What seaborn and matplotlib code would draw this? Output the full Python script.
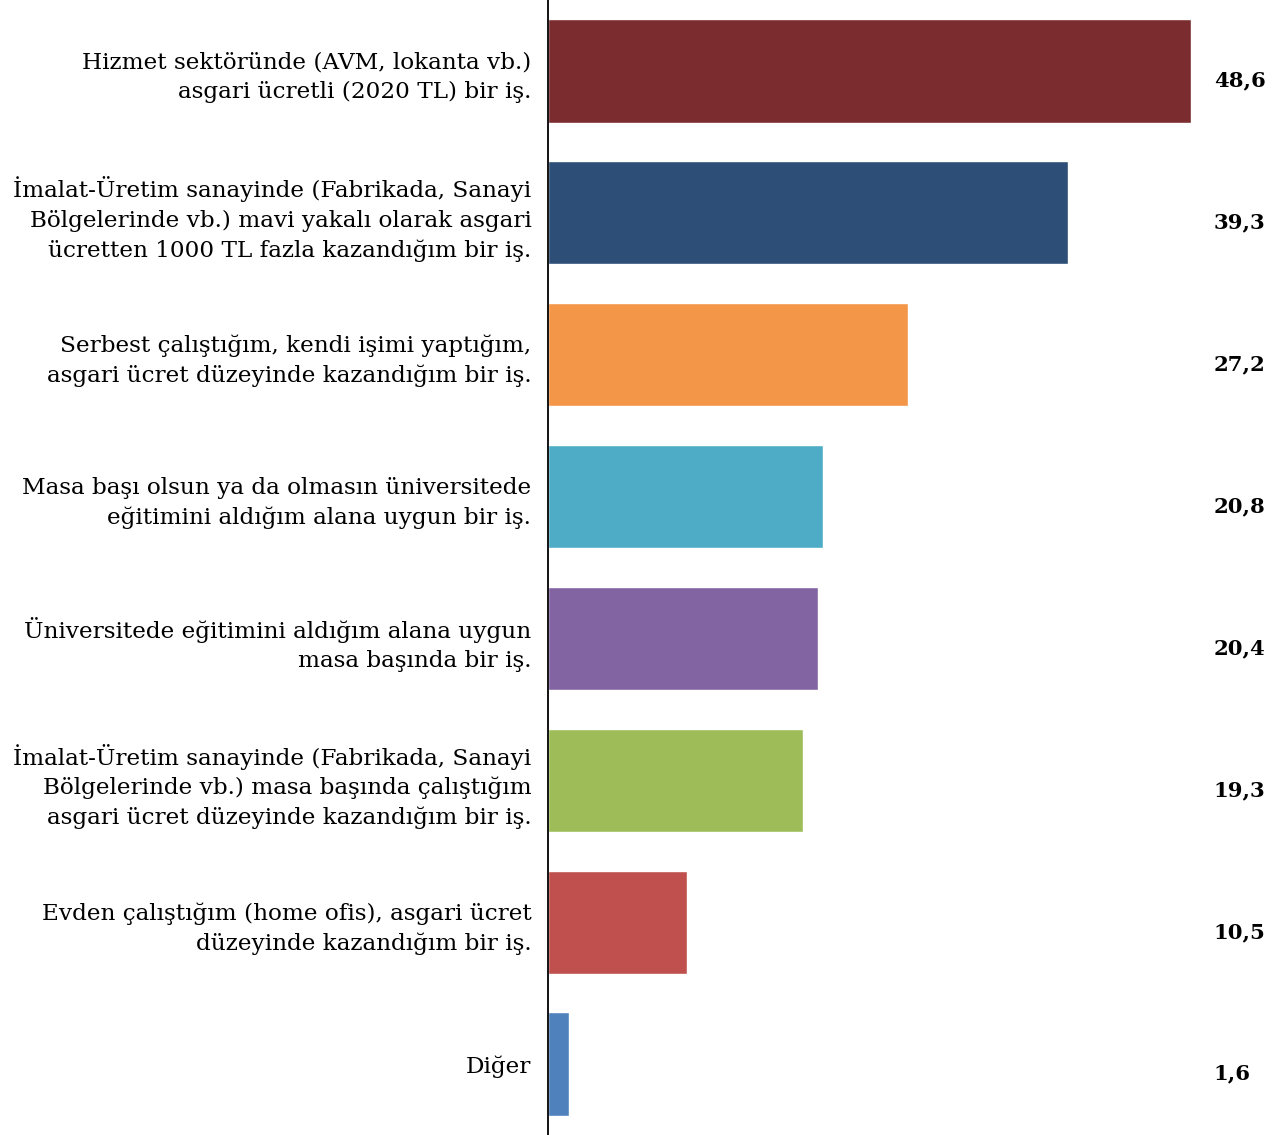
import pandas as pd
import seaborn as sns
import matplotlib.pyplot as plt

# answers and shares (%)
labels = [
    "Hizmet sektöründe (AVM, lokanta vb.)\nasgari ücretli (2020 TL) bir iş.",
    "İmalat-Üretim sanayinde (Fabrikada, Sanayi\nBölgelerinde vb.) mavi yakalı olarak asgari\nücretten 1000 TL fazla kazandığım bir iş.",
    "Serbest çalıştığım, kendi işimi yaptığım,\nasgari ücret düzeyinde kazandığım bir iş.",
    "Masa başı olsun ya da olmasın üniversitede\neğitimini aldığım alana uygun bir iş.",
    "Üniversitede eğitimini aldığım alana uygun\nmasa başında bir iş.",
    "İmalat-Üretim sanayinde (Fabrikada, Sanayi\nBölgelerinde vb.) masa başında çalıştığım\nasgari ücret düzeyinde kazandığım bir iş.",
    "Evden çalıştığım (home ofis), asgari ücret\ndüzeyinde kazandığım bir iş.",
    "Diğer",
]
values = [48.6, 39.3, 27.2, 20.8, 20.4, 19.3, 10.5, 1.6]
colors = ["#7B2C2E", "#2D4E76", "#F39648", "#4FACC7",
          "#8264A2", "#9EBC58", "#C0504D", "#4F81BD"]

df = pd.DataFrame({"label": labels, "value": values})

sns.set_style("white")
plt.rcParams['font.family'] = ['DejaVu Serif']

fig = plt.figure(figsize=(12.8, 11.35), dpi=100)
ax = fig.add_axes([548 / 1280, 0, 1 - 548 / 1280, 1])

sns.barplot(data=df, x="value", y="label", hue="label", palette=colors,
            orient="h", width=0.727, saturation=1, legend=False, ax=ax)

ax.set_xlim(0, 55.3)
ax.set_ylim(len(labels) - 0.5, -0.5)
ax.set_xlabel("")
ax.set_ylabel("")
ax.set_xticks([])
ax.tick_params(axis="y", length=0, pad=12, labelsize=16.7, labelcolor="black")
for t in ax.get_yticklabels():
    t.set_horizontalalignment("right")
    t.set_linespacing(1.42)

for s in ["top", "right", "bottom"]:
    ax.spines[s].set_visible(False)
ax.spines["left"].set_color("black")
ax.spines["left"].set_linewidth(1.3)

for i, v in enumerate(values):
    ax.annotate(f"{v:.1f}".replace(".", ","), xy=(50.3, i), xytext=(0, -7),
                textcoords="offset points", ha="left", va="center",
                fontsize=15.3, fontweight="bold", color="black")

fig.savefig("out.png", dpi=100)
